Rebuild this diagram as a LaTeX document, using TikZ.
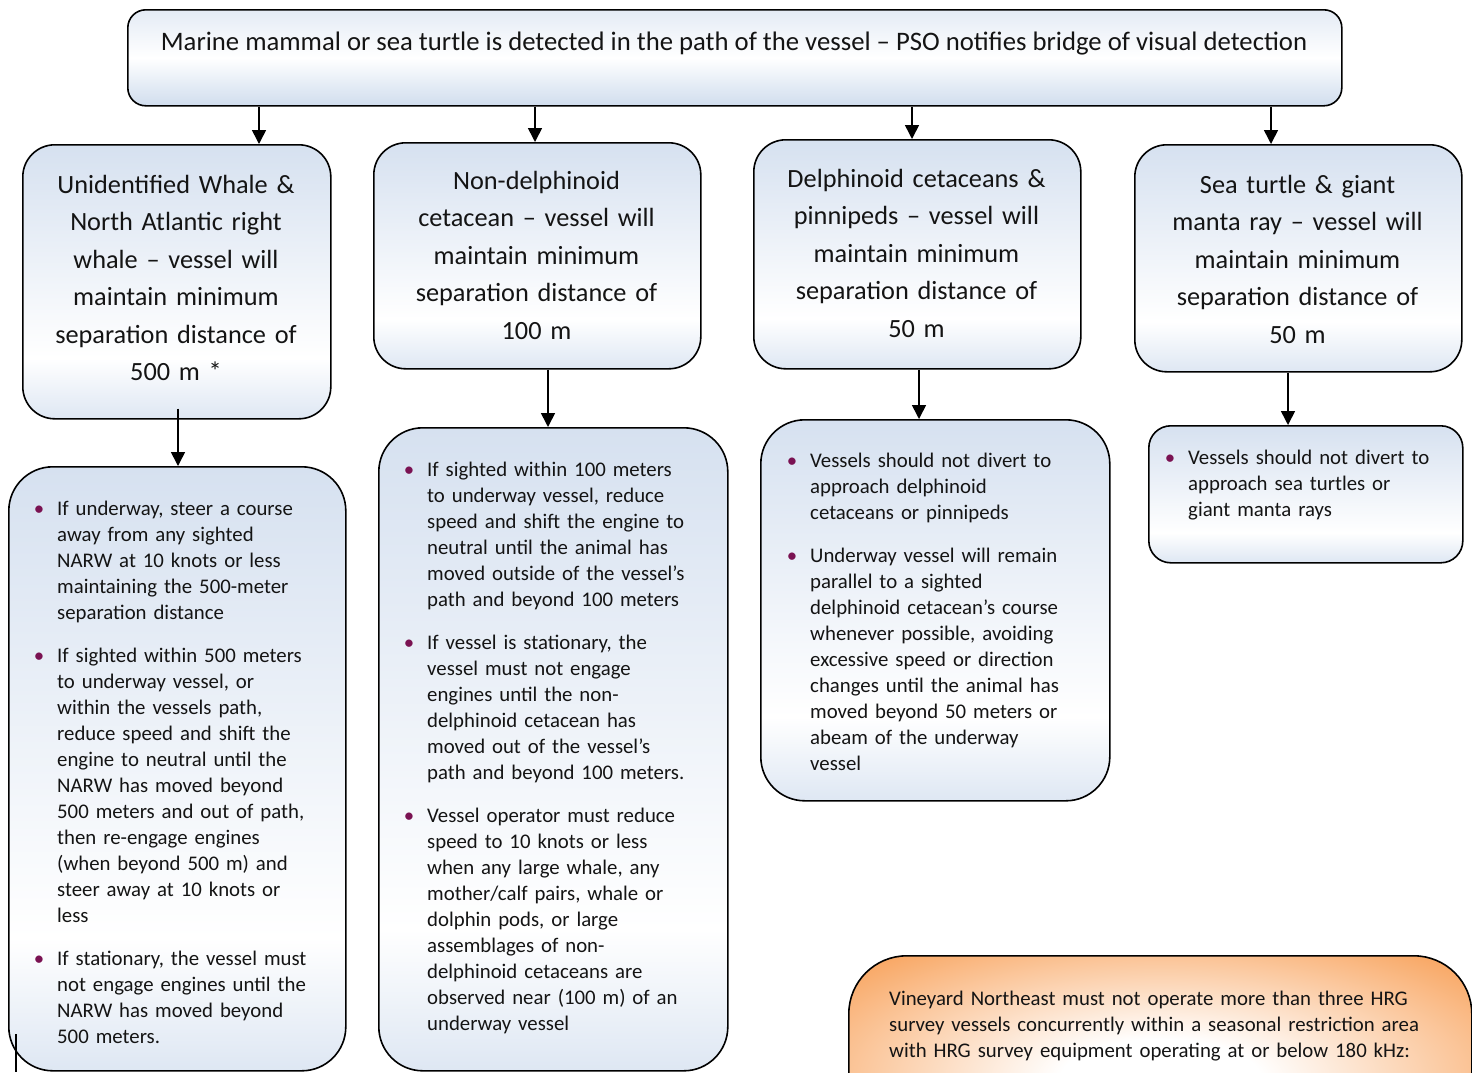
\documentclass[tikz,border=0pt]{standalone}
\usepackage{fontspec}
\setmainfont{Carlito}
\usetikzlibrary{arrows.meta}

% fills
\definecolor{bluetop}{RGB}{214,225,240}
\definecolor{bluebot}{RGB}{222,231,243}
\definecolor{headtop}{RGB}{228,235,245}
\definecolor{headbot}{RGB}{208,221,238}
\definecolor{orfill}{RGB}{247,150,70}
\definecolor{bulletc}{RGB}{122,18,82}
\definecolor{inkc}{RGB}{20,20,20}

\pgfdeclareverticalshading{boxfill}{100bp}{color(0bp)=(bluebot); color(25bp)=(bluebot); color(36bp)=(white); color(75bp)=(bluetop); color(100bp)=(bluetop)}
\pgfdeclareverticalshading{headfill}{100bp}{color(0bp)=(headbot); color(25bp)=(headbot); color(50bp)=(white); color(75bp)=(headtop); color(100bp)=(headtop)}
\pgfdeclareradialshading{orangeglow}{\pgfpoint{0bp}{0bp}}{color(0bp)=(white); color(8bp)=(white); color(38bp)=(orfill); color(50bp)=(orfill)}

\newcommand\bulitem{\leavevmode\llap{\textcolor{bulletc}{\textbullet}\hspace{13pt}}}

\tikzset{
  box/.style={draw=black, line width=1.6pt, shade, shading=boxfill, inner sep=0pt, anchor=north west},
  headbox/.style={box, shading=headfill, rounded corners=18pt},
  catbox/.style={box, rounded corners=32pt},
  actbox/.style={box, rounded corners=44pt},
  notebox/.style={draw=black, line width=1.6pt, shade, shading=orangeglow, rounded corners=58pt, inner sep=0pt, anchor=north west},
  cattext/.style={inner sep=0pt, anchor=base, align=center, text width=300pt, text=inkc,
    font=\fontsize{26.3}{37.5}\selectfont},
  headtext/.style={inner sep=0pt, anchor=base, text=inkc, font=\fontsize{26.7}{37.5}\selectfont},
  listtext/.style={inner sep=0pt, anchor=base west, align=left, text width=330pt, text=inkc,
    font=\fontsize{20.8}{26}\selectfont},
  arr/.style={line width=1.6pt, -{Triangle[width=14pt,length=14pt]}},
}

\begin{document}
\begin{tikzpicture}[x=1pt,y=-1pt]
\useasboundingbox (0,0) rectangle (1472,1072);
\clip (0,0) rectangle (1472,1072);

% header
\node[headbox, minimum width=1214pt, minimum height=96pt] (head) at (127,9) {};
\node[headtext] (headt) at (734,50) {Marine mammal or sea turtle is detected in the path of the vessel – PSO notifies bridge of visual detection};

% species categories
\node[catbox, minimum width=308pt, minimum height=274pt] (c1) at (22,144) {};
\node[catbox, minimum width=327pt, minimum height=226pt] (c2) at (373,142) {};
\node[catbox, minimum width=327pt, minimum height=229pt] (c3) at (753,139) {};
\node[catbox, minimum width=327pt, minimum height=227pt] (c4) at (1134,144) {};

\node[cattext] (c1t) at (176,193) {Unidentified Whale \&\\North Atlantic right\\whale – vessel will\\maintain minimum\\separation distance of\\500 m *};
\node[cattext] (c2t) at (536.5,189) {Non-delphinoid\\cetacean – vessel will\\maintain minimum\\separation distance of\\100 m};
\node[cattext] (c3t) at (916.5,187) {Delphinoid cetaceans \&\\pinnipeds – vessel will\\maintain minimum\\separation distance of\\50 m};
\node[cattext] (c4t) at (1297.5,193) {Sea turtle \& giant\\manta ray – vessel will\\maintain minimum\\separation distance of\\50 m};

% required actions
\node[actbox, minimum width=337pt, minimum height=604pt] (a1) at (8,466) {};
\node[actbox, minimum width=349pt, minimum height=643pt] (a2) at (378,427) {};
\node[actbox, minimum width=349pt, minimum height=381pt] (a3) at (760,419) {};
\node[box, rounded corners=22pt, minimum width=314pt, minimum height=137pt] (a4) at (1148,425) {};

\node[listtext] (a1t) at (57,515) {\bulitem If underway, steer a course\\away from any sighted\\NARW at 10 knots or less\\maintaining the 500-meter\\separation distance\\[17pt]
\bulitem If sighted within 500 meters\\to underway vessel, or\\within the vessels path,\\reduce speed and shift the\\engine to neutral until the\\NARW has moved beyond\\500 meters and out of path,\\then re-engage engines\\(when beyond 500 m) and\\steer away at 10 knots or\\less\\[17pt]
\bulitem If stationary, the vessel must\\not engage engines until the\\NARW has moved beyond\\500 meters.};

\node[listtext] (a2t) at (427,476) {\bulitem If sighted within 100 meters\\to underway vessel, reduce\\speed and shift the engine to\\neutral until the animal has\\moved outside of the vessel’s\\path and beyond 100 meters\\[17pt]
\bulitem If vessel is stationary, the\\vessel must not engage\\engines until the non-\\delphinoid cetacean has\\moved out of the vessel’s\\path and beyond 100 meters.\\[17pt]
\bulitem Vessel operator must reduce\\speed to 10 knots or less\\when any large whale, any\\mother/calf pairs, whale or\\dolphin pods, or large\\assemblages of non-\\delphinoid cetaceans are\\observed near (100 m) of an\\underway vessel};

\node[listtext] (a3t) at (810,467) {\bulitem Vessels should not divert to\\approach delphinoid\\cetaceans or pinnipeds\\[17pt]
\bulitem Underway vessel will remain\\parallel to a sighted\\delphinoid cetacean’s course\\whenever possible, avoiding\\excessive speed or direction\\changes until the animal has\\moved beyond 50 meters or\\abeam of the underway\\vessel};

\node[listtext] (a4t) at (1188,464) {\bulitem Vessels should not divert to\\approach sea turtles or\\giant manta rays};

% seasonal restriction note
\node[notebox, minimum width=623pt, minimum height=245pt] (note) at (848,955) {};
\node[listtext, text width=600pt] (notet) at (889,1005) {Vineyard Northeast must not operate more than three HRG\\survey vessels concurrently within a seasonal restriction area\\with HRG survey equipment operating at or below 180 kHz:};

% connectors
\coordinate (x1) at (259,0);
\coordinate (x2) at (535,0);
\coordinate (x3) at (912,0);
\coordinate (x4) at (1271,0);
\draw[arr] (head.south -| x1) -- (c1.north -| x1);
\draw[arr] (head.south -| x2) -- (c2.north -| x2);
\draw[arr] (head.south -| x3) -- (c3.north -| x3);
\draw[arr] (head.south -| x4) -- (c4.north -| x4);

\coordinate (y1) at (178,0);
\coordinate (y2) at (548,0);
\coordinate (y3) at (919,0);
\coordinate (y4) at (1288,0);
\draw[arr] ([yshift=11pt]c1.south -| y1) -- (a1.north -| y1);
\draw[arr] (c2.south -| y2) -- (a2.north -| y2);
\draw[arr] (c3.south -| y3) -- (a3.north -| y3);
\draw[arr] (c4.south -| y4) -- (a4.north -| y4);

% short rule at the lower left edge
\draw[line width=1.4pt] (16,1034) -- (16,1072);
\end{tikzpicture}
\end{document}
